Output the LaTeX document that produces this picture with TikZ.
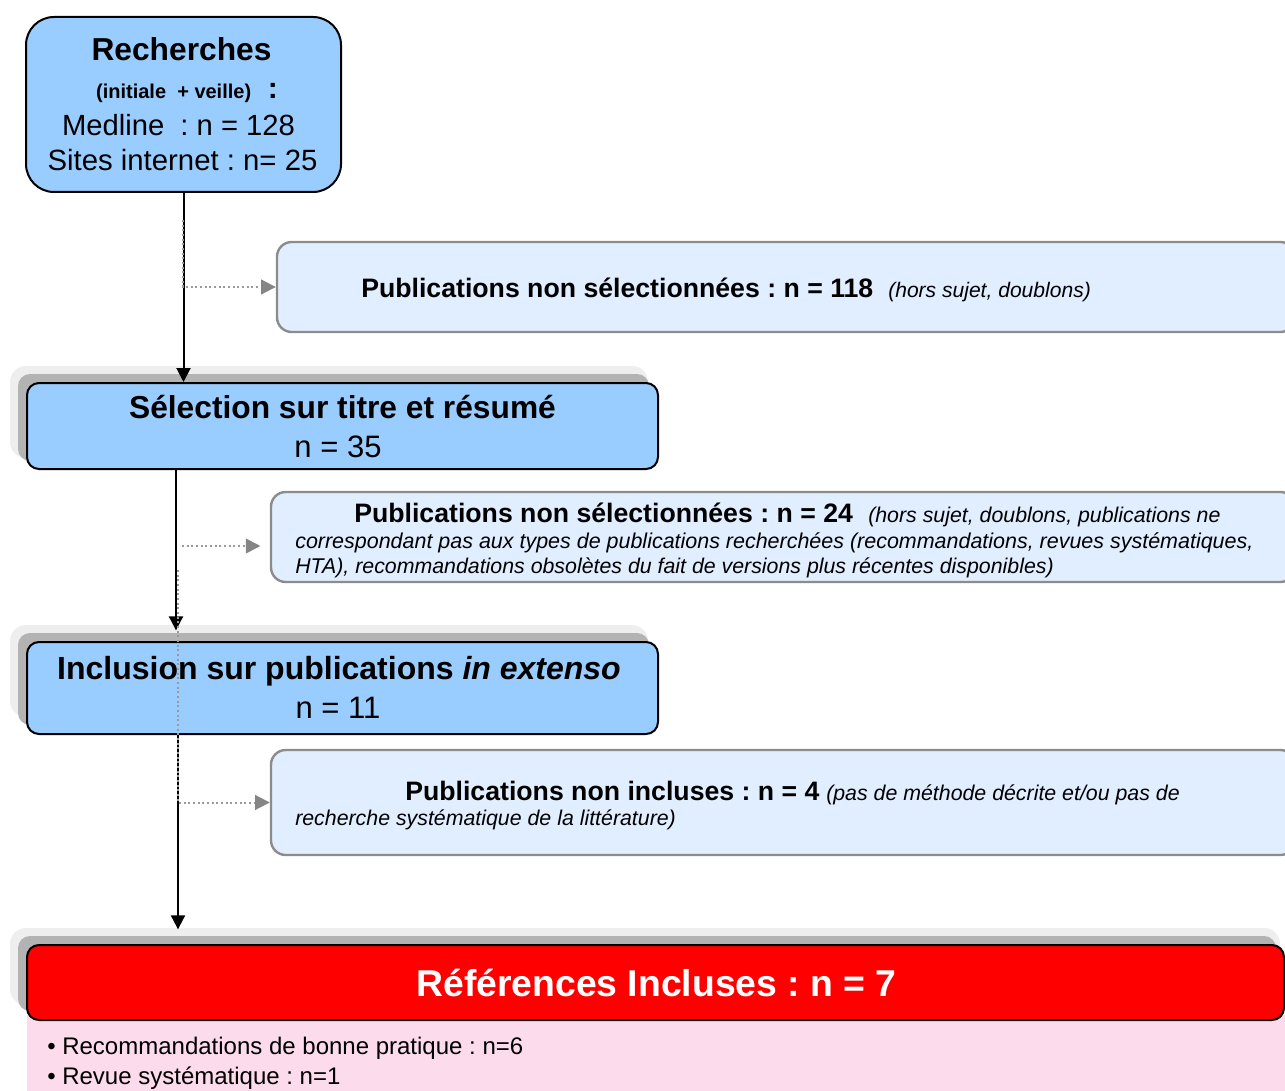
\documentclass[tikz,border=0pt]{standalone}
\usepackage{fontspec}
\setmainfont{Liberation Sans}
\usetikzlibrary{arrows.meta,fit}
\definecolor{bluefill}{HTML}{99CCFF}
\definecolor{lightfill}{HTML}{E1EEFF}
\definecolor{lightborder}{HTML}{8C8C8C}
\definecolor{shadowgray}{HTML}{B3B3B3}
\definecolor{halogray}{HTML}{EEEEEE}
\definecolor{pinkfill}{HTML}{FCDCEC}
\definecolor{dotgray}{HTML}{9A9A9A}
\definecolor{tipgray}{HTML}{858585}
\definecolor{redfill}{HTML}{FF0000}
\newcommand{\fsz}[1]{\fontsize{#1}{#1}\selectfont}
\frenchspacing
\begin{document}
\begin{tikzpicture}[x=0.75pt,y=-0.75pt,
 bluebox/.style={draw=black,line width=1.5pt,fill=bluefill,rounded corners=9pt,inner sep=0pt},
 lightbox/.style={draw=lightborder,line width=1.8pt,fill=lightfill,rounded corners=11pt,inner sep=0pt},
 redbox/.style={draw=black,line width=1.5pt,fill=redfill,rounded corners=9pt,inner sep=0pt},
 txt/.style={inner sep=0pt,anchor=base,execute at begin node=\frenchspacing},
 txtw/.style={inner sep=0pt,anchor=base west,execute at begin node=\frenchspacing},
 arr/.style={draw=black,line width=1.5pt,-{Triangle[length=10.5pt,width=10.5pt]}},
 dotarr/.style={draw=dotgray,line width=1.5pt,dash pattern=on 1.5pt off 2pt,-{Triangle[length=11pt,width=11pt,color=tipgray]}},
]
\useasboundingbox (0,0) rectangle (1285,1091);
\clip (0,0) rectangle (1285,1091);

% Box 1
\node[bluebox,rounded corners=21pt,fit={(26,17) (341,192)}] (box1) {};
\node[txt] (r1) at (181.5,61) {\fsz{23.8pt}\bfseries Recherches};
\node[txt] (r2) at (187,99) {\fsz{15pt}\bfseries (initiale\ \ + veille)\ \ \ {\fsz{22.5pt}:}};
\node[txt] (r3) at (178.5,135.5) {\fsz{21.9pt}Medline\ \ : n = 128};
\node[txt] (r4) at (182.5,170.5) {\fsz{22pt}Sites internet : n= 25};

% Light box A
\node[lightbox,fit={(277,242) (1295,332)}] (boxA) {};
\node[txtw] (a1) at (361,297) {\fsz{20pt}\bfseries Publications non sélectionnées : n = 118};
\node[txtw] (a2) at (888,297) {\fsz{15.8pt}\itshape (hors sujet, doublons)};

% Box 2 with shadow
\fill[halogray,rounded corners=12pt] (10,366) rectangle (648,458);
\fill[shadowgray,rounded corners=9pt] (18,374) rectangle (649,461);
\node[bluebox,fit={(27,383) (658,469)}] (box2) {};
\node[txt] (s1) at (342.5,418) {\fsz{23.8pt}\bfseries Sélection sur titre et résumé};
\node[txt] (s2) at (338,457) {\fsz{23.25pt}n = 35};

% Light box B
\node[lightbox,fit={(271,492) (1295,582)}] (boxB) {};
\node[txtw] (b1) at (354,522) {\fsz{20pt}\bfseries Publications non sélectionnées : n = 24};
\node[txtw] (b2) at (868,522) {\fsz{16pt}\itshape (hors sujet, doublons, publications ne};
\node[txtw] (b3) at (295,548) {\fsz{16.1pt}\itshape correspondant pas aux types de publications recherchées (recommandations, revues systématiques,};
\node[txtw] (b4) at (295,573) {\fsz{16pt}\itshape HTA), recommandations obsolètes du fait de versions plus récentes disponibles)};

% Box 3 with shadow
\fill[halogray,rounded corners=12pt] (10,625) rectangle (648,717);
\fill[shadowgray,rounded corners=9pt] (18,633) rectangle (649,725);
\node[bluebox,fit={(27,642) (658,734)}] (box3) {};
\node[txt] (i1) at (339,679.5) {\fsz{24pt}\bfseries Inclusion sur publications \textit{in extenso}};
\node[txt] (i2) at (338,718) {\fsz{23.25pt}n = 11};

% Light box C
\node[lightbox,fit={(271,750) (1295,855)}] (boxC) {};
\node[txtw] (c1) at (405,800) {\fsz{20pt}\bfseries Publications non incluses : n = 4};
\node[txtw] (c2) at (826,800) {\fsz{16pt}\itshape (pas de méthode décrite et/ou pas de};
\node[txtw] (c3) at (295,825) {\fsz{16pt}\itshape recherche systématique de la littérature)};

% Pink area and red box
\fill[pinkfill] (27,1015) rectangle (1285,1091);
\fill[halogray,rounded corners=12pt] (10,928) rectangle (1280,1005);
\fill[shadowgray,rounded corners=9pt] (18,936) rectangle (1276,1011);
\node[redbox,fit={(27,945) (1284,1020)}] (red) {};
\node[txt,text=white] (f1) at (656.5,996) {\fsz{28pt}\bfseries Références Incluses : n = 7};
\node[txtw] (p1) at (47,1054.5) {\fsz{18pt}• Recommandations de bonne pratique : n=6};
\node[txtw] (p2) at (47,1084.5) {\fsz{18pt}• Revue systématique : n=1};

% Solid arrows
\coordinate (x2) at (176,0);
\coordinate (x3) at (178,0);
\draw[arr] (box1.south) -- (box1.south |- box2.north);
\draw[arr,shorten >=8pt] (box2.south -| x2) -- (box3.north -| x2);
\draw[arr,shorten >=11pt] (box3.south -| x3) -- (red.north -| x3);

% Dotted arrows
\coordinate (d1s) at (183,220);
\coordinate (d2s) at (182,546);
\coordinate (d3s) at (178,570);
\draw[dotarr] (d1s) |- (boxA.west);
\draw[dotarr,shorten >=7pt] (d2s) -- (d2s -| boxB.west);
\draw[dotarr] (d3s) |- (boxC.west);
\end{tikzpicture}
\end{document}
